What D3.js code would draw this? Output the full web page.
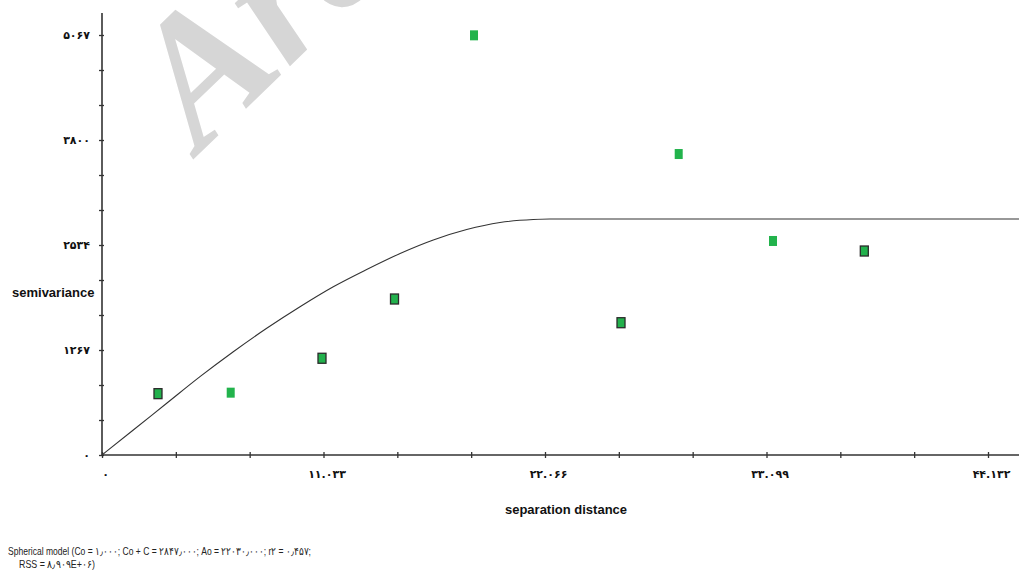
<!DOCTYPE html>
<html lang="en">
<head>
<meta charset="UTF-8">
<title>semivariogram</title>
<script src="https://d3js.org/d3.v7.min.js"></script>
<style>
  body { margin: 0; background: #fff; }
  svg { display: block; }
  .tick text { font-family: "DejaVu Sans", sans-serif; font-weight: bold; font-size: 11px; fill: #111; }
  .axis-title { font-family: "Liberation Sans", Arial, sans-serif; font-weight: bold; font-size: 13px; fill: #111; }
  .note { font-family: "Liberation Sans", Arial, sans-serif; font-size: 10.5px; fill: #222; }
  .model { fill: none; stroke: #333; stroke-width: 1.1px; }
</style>
</head>
<body>
<div id="container"></div>
<script>
// tick values and their labels (persian digits as in the original)
const xMajor = [0, 11033, 22066, 33099, 44132];
const xMajorLabels = ["۰", "۱۱.۰۳۳", "۲۲.۰۶۶", "۳۳.۰۹۹", "۴۴.۱۳۲"];
const yMajor = [0, 1267, 2534, 3800, 5067];
const yMajorLabels = ["۰", "۱۲۶۷", "۲۵۳۴", "۳۸۰۰", "۵۰۶۷"];

// experimental semivariance, outlined markers
const lagA = [2789, 10958, 14570, 25852, 37971];
const gammaA = [740, 1167, 1882, 1596, 2461];
// experimental semivariance, plain markers
const lagB = [6411, 18530, 28726, 33423];
const gammaB = [752, 5063, 3631, 2582];

// fitted spherical model
const curveLag = [0, 1559, 3223, 4881, 6540, 8204, 9863, 11521, 13185, 14848, 16502, 18166, 19825, 21484, 22300, 45676];
const curveGamma = [0, 302, 624, 945, 1246, 1529, 1789, 2030, 2238, 2431, 2594, 2720, 2805, 2841, 2847, 2847];

const noteLine1 = "Spherical model (Co = ۱٫۰۰۰; Co + C = ۲۸۴۷٫۰۰۰; Ao = ۲۲۰۳۰٫۰۰۰; r۲ = ۰٫۴۵۷;";
const noteLine2 = "RSS = ۸٫۹۰۹E+۰۶)";

const width = 1019, height = 572;

const svg = d3.select("#container")
  .append("svg")
  .attr("width", width)
  .attr("height", height);

svg.append("rect").attr("width", width).attr("height", height).attr("fill", "#fff");

// watermark
svg.append("text")
  .attr("transform", "translate(200,153) rotate(-44)")
  .attr("font-family", "Liberation Serif, serif")
  .attr("font-weight", "bold")
  .attr("font-style", "italic")
  .attr("font-size", 182)
  .attr("fill", "#d6d6d6")
  .text("Archive of SID");

const x = d3.scaleLinear().domain([0, 44132]).range([102, 988]);
const y = d3.scaleLinear().domain([0, 5067]).range([455, 35]);

// minor ticks: thirds of each major step
const xTicks = d3.range(13).map(i => i * 44132 / 12);
const yTicks = d3.range(13).map(i => i * 5067 / 12);

function labelFor(v, majors, labels) {
  const i = majors.findIndex(m => Math.abs(m - v) < 1);
  return i >= 0 ? labels[i] : "";
}

// x axis
const gx = svg.append("g")
  .attr("transform", `translate(0,${y(0)})`)
  .call(d3.axisBottom(x)
    .tickValues(xTicks)
    .tickSize(3)
    .tickPadding(12)
    .tickFormat(v => labelFor(v, xMajor, xMajorLabels)));
gx.select(".domain").remove();
gx.selectAll(".tick line").attr("y1", -3).attr("stroke", "#333").attr("stroke-width", 1.3);
gx.selectAll(".tick text").attr("dx", 3);
gx.append("line")
  .attr("x1", x(0)).attr("x2", width)
  .attr("stroke", "#333").attr("stroke-width", 1.6);

// y axis
const gy = svg.append("g")
  .attr("transform", `translate(${x(0)},0)`)
  .call(d3.axisLeft(y)
    .tickValues(yTicks)
    .tickSize(3)
    .tickPadding(9)
    .tickFormat(v => labelFor(v, yMajor, yMajorLabels)));
gy.select(".domain").remove();
gy.selectAll(".tick line").attr("x1", 2).attr("stroke", "#333").attr("stroke-width", 1.3);
gy.append("line")
  .attr("y1", y(0)).attr("y2", 13)
  .attr("stroke", "#333").attr("stroke-width", 1.6);

// model curve
const curveData = curveLag.map((d, i) => [d, curveGamma[i]]);
svg.append("path")
  .attr("class", "model")
  .attr("d", d3.line()
    .x(d => x(d[0]))
    .y(d => y(d[1]))
    .curve(d3.curveMonotoneX)(curveData));

// markers
const mw = 8, mh = 10;
svg.selectAll(".ptA")
  .data(lagA.map((d, i) => [d, gammaA[i]]))
  .enter().append("rect")
  .attr("class", "ptA")
  .attr("x", d => x(d[0]) - mw / 2)
  .attr("y", d => y(d[1]) - mh / 2)
  .attr("width", mw).attr("height", mh)
  .attr("fill", "#22b14c")
  .attr("stroke", "#2b2b2b")
  .attr("stroke-width", 1.3);

svg.selectAll(".ptB")
  .data(lagB.map((d, i) => [d, gammaB[i]]))
  .enter().append("rect")
  .attr("class", "ptB")
  .attr("x", d => x(d[0]) - mw / 2)
  .attr("y", d => y(d[1]) - mh / 2)
  .attr("width", mw).attr("height", mh)
  .attr("fill", "#22b34c");

// axis titles
svg.append("text")
  .attr("class", "axis-title")
  .attr("x", 12).attr("y", 297)
  .text("semivariance");

svg.append("text")
  .attr("class", "axis-title")
  .attr("x", 566).attr("y", 514)
  .attr("text-anchor", "middle")
  .text("separation distance");

// model note, condensed like the original
svg.append("text").attr("class", "note").attr("x", 8).attr("y", 555)
  .attr("textLength", 303).attr("lengthAdjust", "spacingAndGlyphs").text(noteLine1);
svg.append("text").attr("class", "note").attr("x", 19).attr("y", 568)
  .attr("textLength", 76).attr("lengthAdjust", "spacingAndGlyphs").text(noteLine2);
</script>
</body>
</html>
